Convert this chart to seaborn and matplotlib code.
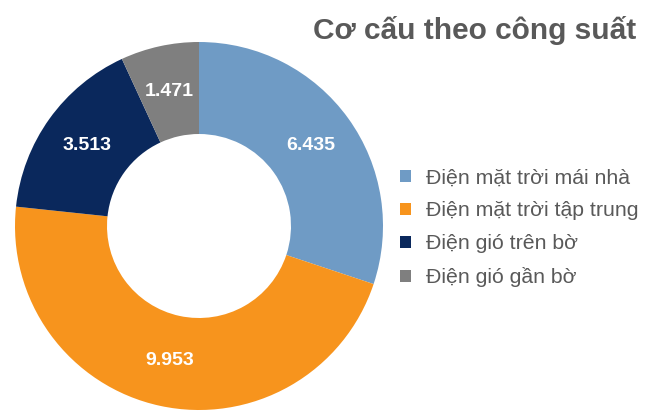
import matplotlib
matplotlib.use("Agg")
import matplotlib.pyplot as plt
import seaborn as sns
import numpy as np

# data
labels = ["Điện mặt trời mái nhà", "Điện mặt trời tập trung", "Điện gió trên bờ", "Điện gió gần bờ"]
values = [6.435, 9.953, 3.513, 1.471]
value_labels = ["6.435", "9.953", "3.513", "1.471"]
colors = ["#6f9bc5", "#f7941d", "#0a285c", "#7f7f7f"]

sns.set_style("white")
plt.rcParams["font.family"] = ["Liberation Sans", "DejaVu Sans"]

fig = plt.figure(figsize=(6.54, 4.12), dpi=100)
ax = fig.add_axes([15 / 654, 2 / 412, 368 / 654, 368 / 412])

wedges, _ = ax.pie(values, colors=colors, startangle=90, counterclock=False,
                   wedgeprops=dict(width=0.5, edgecolor="none"))

# value labels in the middle of the ring
for w, txt in zip(wedges, value_labels):
    ang = np.deg2rad((w.theta1 + w.theta2) / 2)
    ax.text(0.75 * np.cos(ang), 0.75 * np.sin(ang), txt, ha="center", va="center",
            color="white", fontsize=14, fontweight="bold")
ax.set_xlim(-1, 1)
ax.set_ylim(-1, 1)
ax.set_aspect("equal")
ax.axis("off")

fig.text(0.725, 0.927, "Cơ cấu theo công suất", ha="center", va="center",
         fontsize=21.5, fontweight="bold", color="#595959")

leg = fig.legend(wedges, labels, loc="center left", bbox_to_anchor=(0.583, 0.447),
                 frameon=False, fontsize=15.3, handlelength=0.5, handleheight=0.5,
                 handletextpad=0.7, labelspacing=0.66, labelcolor="#595959")

fig.savefig("out.png", dpi=100)
